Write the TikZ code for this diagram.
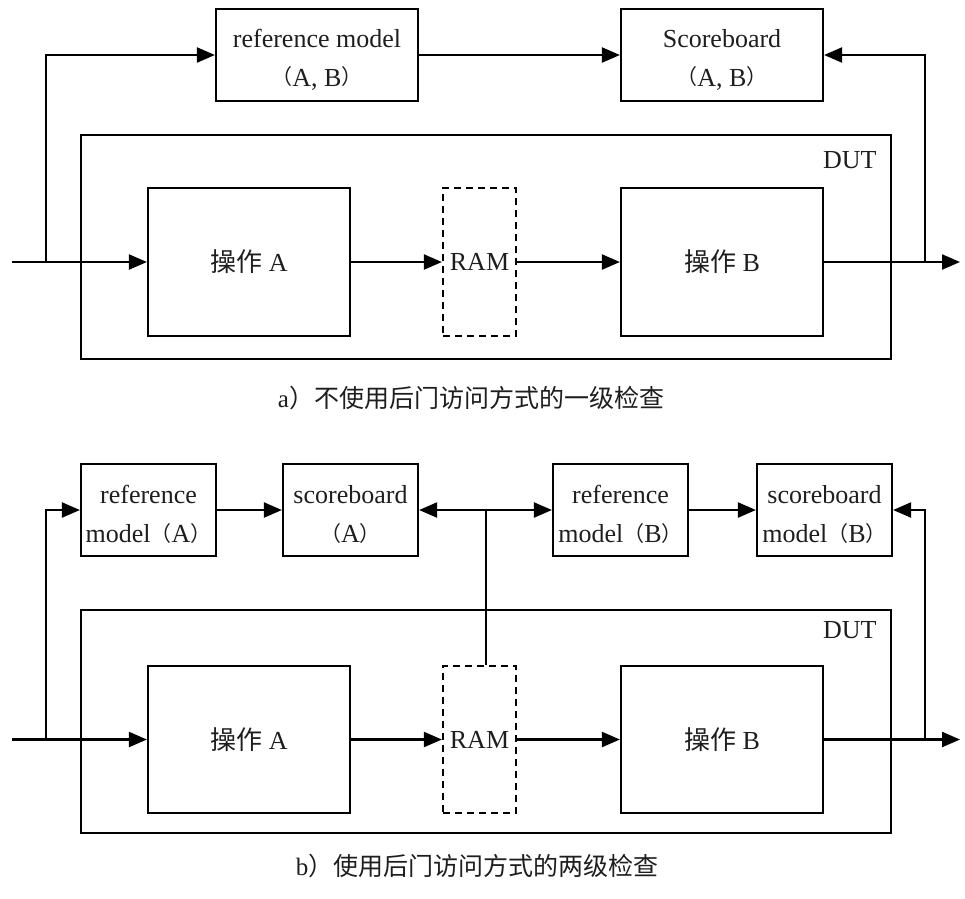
\documentclass[tikz,border=0pt]{standalone}
\usepackage{fontspec}
\setmainfont{Liberation Serif}
\newfontfamily\cjk{Noto Sans CJK SC}
\usetikzlibrary{arrows.meta}
\definecolor{txt}{HTML}{1E1E1E}
\newcommand{\lp}{\raisebox{1.5pt}{\fontsize{21}{21}\selectfont\cjk （}}
\newcommand{\rp}{\raisebox{1.5pt}{\fontsize{21}{21}\selectfont\cjk ）}}
\newcommand{\st}{\rule{0pt}{27pt}}
\tikzset{
  every node/.style={font=\fontsize{26}{39}\selectfont, text=txt},
  blk/.style={draw=black, line width=2.2pt, align=center, inner sep=0pt},
  ramblk/.style={draw=black, line width=2.2pt, dash pattern=on 7pt off 5pt, inner sep=0pt},
  wire/.style={draw=black, line width=2.2pt},
  arr/.style={wire, -{Triangle[length=18pt,width=15pt]}},
  captxt/.style={font=\fontsize{25}{30}\selectfont},
}
\begin{document}
\begin{tikzpicture}[x=1pt,y=-1pt]
\useasboundingbox (0,0) rectangle (965,898);

% ---------------- (a) ----------------
\node[blk, minimum width=202pt, minimum height=92pt] (refAB) at (317,55) {\st reference model\\\lp A, B\rp};
\node[blk, minimum width=202pt, minimum height=92pt] (sbAB) at (722,55) {\st Scoreboard\\\lp A, B\rp};
\node[blk, minimum width=810pt, minimum height=224pt] (dutA) at (486,247) {};
\node[anchor=east] (dutAlbl) at (880,160) {DUT};
\node[blk, minimum width=202pt, minimum height=148pt] (opA1) at (249,262) {{\cjk 操作} A};
\node[ramblk, minimum width=73pt, minimum height=148pt] (ram1) at (479.5,262) {RAM};
\node[blk, minimum width=202pt, minimum height=148pt] (opB1) at (722,262) {{\cjk 操作} B};

\coordinate (in1) at (12,262);
\coordinate (br1) at (46,262);
\coordinate (fb1) at (925,262);
\coordinate (out1) at (960,262);

\draw[arr] (in1) -- (opA1.west);
\draw[arr] (br1) |- (refAB.west);
\draw[arr] (refAB.east) -- (sbAB.west);
\draw[arr] (opA1.east) -- (ram1.west);
\draw[arr] (ram1.east) -- (opB1.west);
\draw[arr] (opB1.east) -- (out1);
\draw[arr] (fb1) |- (sbAB.east);

\node[captxt] (capA) at (471,398) {a{\cjk ）不使用后门访问方式的一级检查}};

% ---------------- (b) ----------------
\node[blk, minimum width=135pt, minimum height=92pt] (refA) at (148.5,510) {\st reference\\model\lp A\rp};
\node[blk, minimum width=135pt, minimum height=92pt] (sbA) at (350.5,510) {\st scoreboard\\\lp A\rp};
\node[blk, minimum width=135pt, minimum height=92pt] (refB) at (620.5,510) {\st reference\\model\lp B\rp};
\node[blk, minimum width=135pt, minimum height=92pt] (sbB) at (824.5,510) {\st scoreboard\\model\lp B\rp};
\node[blk, minimum width=810pt, minimum height=223pt] (dutB) at (486,721.5) {};
\node[anchor=east] (dutBlbl) at (880,630) {DUT};
\node[blk, minimum width=202pt, minimum height=147pt] (opA2) at (249,739.5) {{\cjk 操作} A};
\node[ramblk, minimum width=73pt, minimum height=147pt] (ram2) at (479.5,739.5) {RAM};
\node[blk, minimum width=202pt, minimum height=147pt] (opB2) at (722,739.5) {{\cjk 操作} B};

\coordinate (in2) at (12,739.5);
\coordinate (br2) at (46,739.5);
\coordinate (fb2) at (925,739.5);
\coordinate (out2) at (960,739.5);
\coordinate (j) at (486,510);

\draw[arr] (in2) -- (opA2.west);
\draw[arr] (br2) |- (refA.west);
\draw[arr] (refA.east) -- (sbA.west);
\draw[arr] (refB.east) -- (sbB.west);
\draw[arr] (opA2.east) -- (ram2.west);
\draw[arr] (ram2.east) -- (opB2.west);
\draw[arr] (opB2.east) -- (out2);
\draw[arr] (fb2) |- (sbB.east);
\draw[wire] (j |- ram2.north) -- (j);
\draw[arr] (j) -- (sbA.east);
\draw[arr] (j) -- (refB.west);

\node[captxt] (capB) at (477,866) {b{\cjk ）使用后门访问方式的两级检查}};
\end{tikzpicture}
\end{document}
